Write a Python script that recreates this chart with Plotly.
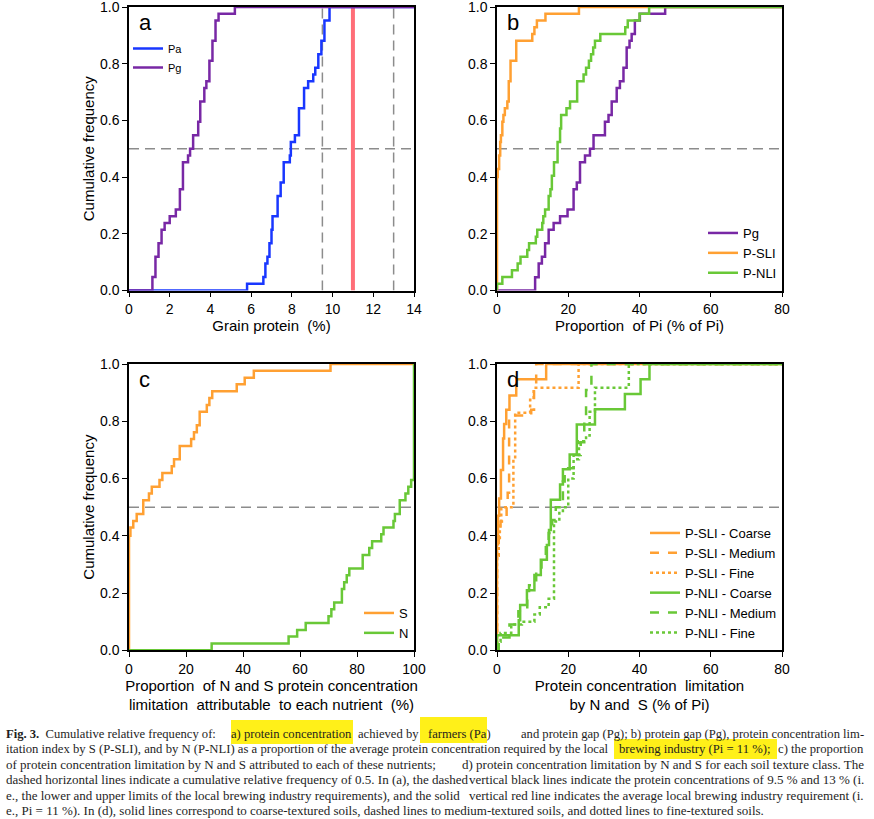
import plotly.graph_objects as go

W, H = 874, 819

# ---- panel a: grain protein (%) ----
PA_X = [0, 5.8, 6.6, 6.7, 6.8, 6.9, 7.0, 7.05, 7.3, 7.45, 7.6, 7.9, 7.95, 8.15, 8.35,
        8.6, 8.8, 9.05, 9.15, 9.3, 9.45, 9.6, 9.85, 14]
PA_Y = [0, 0.024, 0.048, 0.095, 0.119, 0.167, 0.214, 0.262, 0.333, 0.381, 0.452, 0.476,
        0.524, 0.548, 0.643, 0.714, 0.738, 0.762, 0.786, 0.833, 0.881, 0.952, 1.0, 1.0]
PG_A_X = [0, 1.15, 1.3, 1.45, 1.6, 1.75, 2.0, 2.3, 2.5, 2.65, 2.9, 3.0, 3.15, 3.4, 3.5,
          3.7, 3.8, 3.95, 4.1, 4.25, 4.4, 5.2, 14]
PG_A_Y = [0, 0.048, 0.119, 0.167, 0.214, 0.238, 0.262, 0.286, 0.357, 0.452, 0.476, 0.5,
          0.548, 0.595, 0.667, 0.714, 0.738, 0.81, 0.881, 0.952, 0.976, 1.0, 1.0]
PI_LIMITS = [9.5, 13]
PI_MEAN = 11

# ---- panel b: proportion of Pi (% of Pi) ----
PG_B_X = [0, 10.7, 11.7, 12.6, 13.5, 14.5, 15.9, 17.7, 19.8, 21.5, 22.4, 23.3, 24.7,
          26.1, 27.1, 30.3, 31.3, 32.2, 33.6, 34.5, 35.5, 36.4, 37.2, 37.8, 38.7, 40.1,
          47.2, 80]
PG_B_Y = [0, 0.047, 0.095, 0.119, 0.167, 0.214, 0.238, 0.262, 0.286, 0.357, 0.381,
          0.452, 0.476, 0.5, 0.548, 0.595, 0.619, 0.667, 0.714, 0.738, 0.786, 0.857,
          0.881, 0.905, 0.952, 0.976, 1.0, 1.0]
PSLI_X = [0, 0, 0.2, 0.6, 0.9, 1.1, 1.5, 1.8, 2.2, 2.9, 3.3, 3.8, 5.4, 9.9, 10.5, 11.2,
          13.6, 23.0, 80]
PSLI_Y = [0, 0.40, 0.429, 0.476, 0.524, 0.548, 0.595, 0.619, 0.643, 0.667, 0.738, 0.81,
          0.881, 0.905, 0.929, 0.952, 0.976, 1.0, 1.0]
PNLI_X = [0, 0, 1.5, 4.2, 5.8, 6.6, 8.5, 9.0, 10.9, 11.3, 12.7, 13.0, 13.5, 14.5, 15.0,
          15.4, 16.0, 17.0, 17.7, 18.0, 19.5, 20.5, 22.5, 24.3, 25.0, 25.8, 26.4, 27.0,
          27.5, 29.0, 36.0, 36.7, 40.0, 42.7, 80]
PNLI_Y = [0, 0.024, 0.048, 0.071, 0.095, 0.119, 0.143, 0.167, 0.19, 0.214, 0.238, 0.262,
          0.286, 0.333, 0.357, 0.405, 0.452, 0.524, 0.571, 0.619, 0.643, 0.667, 0.738,
          0.762, 0.786, 0.81, 0.833, 0.857, 0.881, 0.905, 0.929, 0.952, 0.976, 1.0, 1.0]

# ---- panel c: share of limitation attributable to S and N (%) ----
S_X = [0, 0, 0.5, 1.5, 2.7, 5.0, 7.0, 8.0, 10.7, 11.7, 15.0, 15.8, 17.8, 21.8, 22.8,
       23.8, 24.8, 27.3, 28.2, 29.2, 37.8, 40.6, 43.8, 70.7, 100]
S_Y = [0, 0.40, 0.429, 0.452, 0.476, 0.524, 0.548, 0.571, 0.595, 0.619, 0.643, 0.667,
       0.714, 0.738, 0.762, 0.786, 0.833, 0.857, 0.881, 0.905, 0.929, 0.952, 0.976, 1.0,
       1.0]
N_X = [0, 29, 56, 59, 62, 70, 71, 72, 74.7, 75.5, 76.4, 77.3, 82, 84.3, 85.3, 88.5, 89.3,
       92.8, 93.3, 95.0, 97.0, 98.0, 99.0, 100]
N_Y = [0, 0.024, 0.048, 0.071, 0.095, 0.119, 0.143, 0.167, 0.214, 0.238, 0.262, 0.286,
       0.333, 0.357, 0.381, 0.405, 0.429, 0.452, 0.476, 0.524, 0.548, 0.571, 0.595, 1.0]

# ---- panel d: limitation by N and S per soil texture (% of Pi) ----
SLI_COARSE_X = [0, 0, 0.3, 0.6, 1.1, 1.7, 2.0, 2.6, 3.5, 5.4, 13.8, 80]
SLI_COARSE_Y = [0, 0.37, 0.47, 0.53, 0.63, 0.74, 0.79, 0.84, 0.89, 0.947, 1.0, 1.0]
SLI_MEDIUM_X = [0, 0, 0.5, 1.0, 2.7, 3.0, 3.4, 9.6, 10.4, 11.0, 80]
SLI_MEDIUM_Y = [0, 0.36, 0.41, 0.45, 0.5, 0.55, 0.82, 0.84, 0.91, 1.0, 1.0]
SLI_FINE_X = [0, 0, 0.5, 0.8, 1.2, 4.6, 5.1, 9.3, 10.3, 22.9, 80]
SLI_FINE_Y = [0, 0.33, 0.38, 0.45, 0.5, 0.67, 0.83, 0.875, 0.917, 1.0, 1.0]
NLI_COARSE_X = [0, 0, 6.1, 6.5, 8.4, 10.5, 12.3, 14.0, 14.6, 15.1, 17.7, 18.5, 20.4,
                22.4, 27.5, 35.9, 40.3, 42.8, 80]
NLI_COARSE_Y = [0, 0.053, 0.105, 0.158, 0.21, 0.263, 0.316, 0.368, 0.42, 0.526, 0.579,
                0.632, 0.684, 0.789, 0.842, 0.895, 0.947, 1.0, 1.0]
NLI_MEDIUM_X = [0, 0.5, 3.5, 6.0, 8.5, 9.0, 11.0, 12.5, 13.7, 14.5, 15.5, 16.5, 18.5,
                19.0, 21.5, 23.5, 24.5, 25.0, 26.5, 80]
NLI_MEDIUM_Y = [0, 0.045, 0.09, 0.136, 0.18, 0.227, 0.273, 0.318, 0.364, 0.41, 0.455,
                0.5, 0.59, 0.636, 0.682, 0.727, 0.818, 0.909, 1.0, 1.0]
NLI_FINE_X = [0, 0, 1.0, 4.0, 7.0, 10.5, 12.0, 14.5, 16.0, 17.5, 18.5, 20.0, 21.5, 23.0,
              25.0, 26.0, 27.5, 37.0, 80]
NLI_FINE_Y = [0, 0.03, 0.06, 0.09, 0.1, 0.125, 0.15, 0.18, 0.45, 0.48, 0.5, 0.6, 0.667,
              0.73, 0.75, 0.833, 0.917, 1.0, 1.0]

X_RANGES = [[0, 14], [0, 80], [0, 100], [0, 80]]
X_DTICKS = [2, 20, 20, 20]
X_TITLES = ["Grain protein  (%)", "Proportion  of Pi (% of Pi)",
            "Proportion  of N and S protein concentration<br>limitation  attributable  to each nutrient  (%)",
            "Protein concentration  limitation<br>by N and  S (% of Pi)"]
PANEL_LETTERS = ["a", "b", "c", "d"]

# caption pieces: (line number, text, anchor, x in px)
CAPTION = [
    (0, "<b>Fig. 3.</b>  Cumulative relative frequency of:", "left", 4),
    (0, "a) protein concentration", "left", 229),
    (0, "achieved by", "right", 421),
    (0, "farmers (Pa)", "left", 426),
    (0, "and protein gap (Pg); b) protein gap (Pg), protein concentration lim-", "right", 866),
    (1, "itation index by S (P-SLI), and by N (P-NLI) as a proportion of the average protein concentration required by the local", "left", 4),
    (1, "brewing industry (Pi = 11 %);", "left", 617),
    (1, "c) the proportion", "right", 866),
    (2, "of protein concentration limitation by N and S attributed to each of these nutrients;", "left", 4),
    (2, "d) protein concentration limitation by N and S for each soil texture class. The", "right", 866),
    (3, "dashed horizontal lines indicate a cumulative relative frequency of 0.5. In (a), the dashed", "left", 4),
    (3, "vertical black lines indicate the protein concentrations of 9.5 % and 13 % (i.", "right", 866),
    (4, "e., the lower and upper limits of the local brewing industry requirements), and the solid", "left", 4),
    (4, "vertical red line indicates the average local brewing industry requirement (i.", "right", 866),
    (5, "e., Pi = 11 %). In (d), solid lines correspond to coarse-textured soils, dashed lines to medium-textured soils, and dotted lines to fine-textured soils.", "left", 4),
]

BLUE = "rgb(25,55,255)"
PURPLE = "rgb(120,40,165)"
ORANGE = "rgb(255,160,50)"
GREEN = "rgb(105,200,55)"
RED = "rgb(255,110,120)"
GREY = "rgb(140,140,140)"
FONT = "Liberation Sans, Arial, sans-serif"
SERIF = "Liberation Serif, Times New Roman, serif"


def px_x(p):
    return p / W


def px_y(p):
    return 1 - p / H


# plot areas in pixels (left, right, top, bottom)
BOXES = [(129, 414, 7, 290.5), (497, 782, 7, 290.5),
         (129, 414, 364, 650.3), (497, 782, 364, 650.3)]

fig = go.Figure()


def step(panel, x, y, name, color, dash="solid", legend=True):
    sfx = "" if panel == 0 else str(panel + 1)
    fig.add_trace(go.Scatter(
        x=x, y=y, mode="lines", line_shape="hv", name=name,
        line=dict(color=color, width=2.5, dash=dash),
        xaxis="x" + sfx, yaxis="y" + sfx, legend="legend" + sfx,
        showlegend=legend))


def ref_line(panel, x, y, color, width, dash):
    sfx = "" if panel == 0 else str(panel + 1)
    fig.add_trace(go.Scatter(
        x=x, y=y, mode="lines", line=dict(color=color, width=width, dash=dash),
        xaxis="x" + sfx, yaxis="y" + sfx, showlegend=False, hoverinfo="skip"))


# reference lines
for i in range(4):
    ref_line(i, X_RANGES[i], [0.5, 0.5], GREY, 1.5, "10px,6px")
for v in PI_LIMITS:
    ref_line(0, [v, v], [0, 1], GREY, 1.5, "10px,6px")
ref_line(0, [PI_MEAN, PI_MEAN], [0, 1], RED, 4, "solid")

step(0, PA_X, PA_Y, "Pa", BLUE)
step(0, PG_A_X, PG_A_Y, "Pg", PURPLE)

step(1, PG_B_X, PG_B_Y, "Pg", PURPLE)
step(1, PSLI_X, PSLI_Y, "P-SLI", ORANGE)
step(1, PNLI_X, PNLI_Y, "P-NLI", GREEN)

step(2, S_X, S_Y, "S", ORANGE)
step(2, N_X, N_Y, "N", GREEN)

step(3, SLI_COARSE_X, SLI_COARSE_Y, "P-SLI - Coarse", ORANGE)
step(3, SLI_MEDIUM_X, SLI_MEDIUM_Y, "P-SLI - Medium", ORANGE, "dash")
step(3, SLI_FINE_X, SLI_FINE_Y, "P-SLI - Fine", ORANGE, "dot")
step(3, NLI_COARSE_X, NLI_COARSE_Y, "P-NLI - Coarse", GREEN)
step(3, NLI_MEDIUM_X, NLI_MEDIUM_Y, "P-NLI - Medium", GREEN, "dash")
step(3, NLI_FINE_X, NLI_FINE_Y, "P-NLI - Fine", GREEN, "dot")

layout = dict(
    width=W, height=H, margin=dict(l=0, r=0, t=0, b=0, autoexpand=False),
    plot_bgcolor="white", paper_bgcolor="white", template="none",
    font=dict(family=FONT, color="black", size=14),
)

for i, (l, r, t, b) in enumerate(BOXES):
    sfx = "" if i == 0 else str(i + 1)
    layout["xaxis" + sfx] = dict(
        domain=[px_x(l), px_x(r)], anchor="y" + sfx, range=X_RANGES[i],
        dtick=X_DTICKS[i], tick0=0, showgrid=False, zeroline=False, automargin=False,
        showline=True, linecolor="black", linewidth=1.5, mirror=True,
        ticks="outside", ticklen=5, tickwidth=1.2, tickcolor="black",
        tickfont=dict(size=14), ticklabeloverflow="allow",
        title=dict(text=X_TITLES[i], font=dict(size=15), standoff=3))
    layout["yaxis" + sfx] = dict(
        domain=[px_y(b), px_y(t)], anchor="x" + sfx, range=[0, 1], dtick=0.2,
        tickformat=".1f", showgrid=False, zeroline=False, automargin=False,
        showline=True, linecolor="black", linewidth=1.5, mirror=True,
        ticks="outside", ticklen=5, tickwidth=1.2, tickcolor="black",
        tickfont=dict(size=14), ticklabeloverflow="allow",
        title=dict(text="Cumulative frequency" if i in (0, 2) else "",
                   font=dict(size=15), standoff=2))

legend_common = dict(bgcolor="rgba(0,0,0,0)", itemwidth=30, tracegroupgap=0)
layout["legend"] = dict(x=px_x(128), y=px_y(34), xanchor="left", yanchor="top",
                        font=dict(size=11), **legend_common)
layout["legend2"] = dict(x=px_x(782), y=px_y(288), xanchor="right", yanchor="bottom",
                         font=dict(size=13), **legend_common)
layout["legend3"] = dict(x=px_x(414), y=px_y(648), xanchor="right", yanchor="bottom",
                         font=dict(size=13), **legend_common)
layout["legend4"] = dict(x=px_x(782), y=px_y(648), xanchor="right", yanchor="bottom",
                         font=dict(size=13), **legend_common)

annotations = []
for i, (l, r, t, b) in enumerate(BOXES):
    annotations.append(dict(
        text=PANEL_LETTERS[i], x=px_x(l + 8), y=px_y(t + 1), xref="paper", yref="paper",
        xanchor="left", yanchor="top", showarrow=False, font=dict(size=22)))

# the first two caption lines are denser in the original, so they get a smaller size
caption_size = {0: 12.6, 1: 12.7}
for k, text, anchor, xpos in CAPTION:
    annotations.append(dict(
        text=text, x=px_x(xpos), y=px_y(734 + k * 15.3), xref="paper", yref="paper",
        xanchor=anchor, yanchor="middle", showarrow=False, align=anchor,
        font=dict(family=SERIF, size=caption_size.get(k, 13.0), color="rgb(30,30,30)")))
layout["annotations"] = annotations

# highlighter marks over the caption (left, right, top, bottom in px)
HIGHLIGHTS = [(231, 353, 720, 744), (420, 487, 717, 743), (614, 777, 739, 759)]
layout["shapes"] = [
    dict(type="rect", xref="paper", yref="paper", x0=px_x(a), x1=px_x(c),
         y0=px_y(d), y1=px_y(e), fillcolor="rgba(255,238,0,0.9)",
         line=dict(width=0), layer="below")
    for a, c, e, d in HIGHLIGHTS
]

fig.update_layout(**layout)
fig.write_html("out.html", config={"displayModeBar": False},
               post_script="document.body.style.margin='0';")
